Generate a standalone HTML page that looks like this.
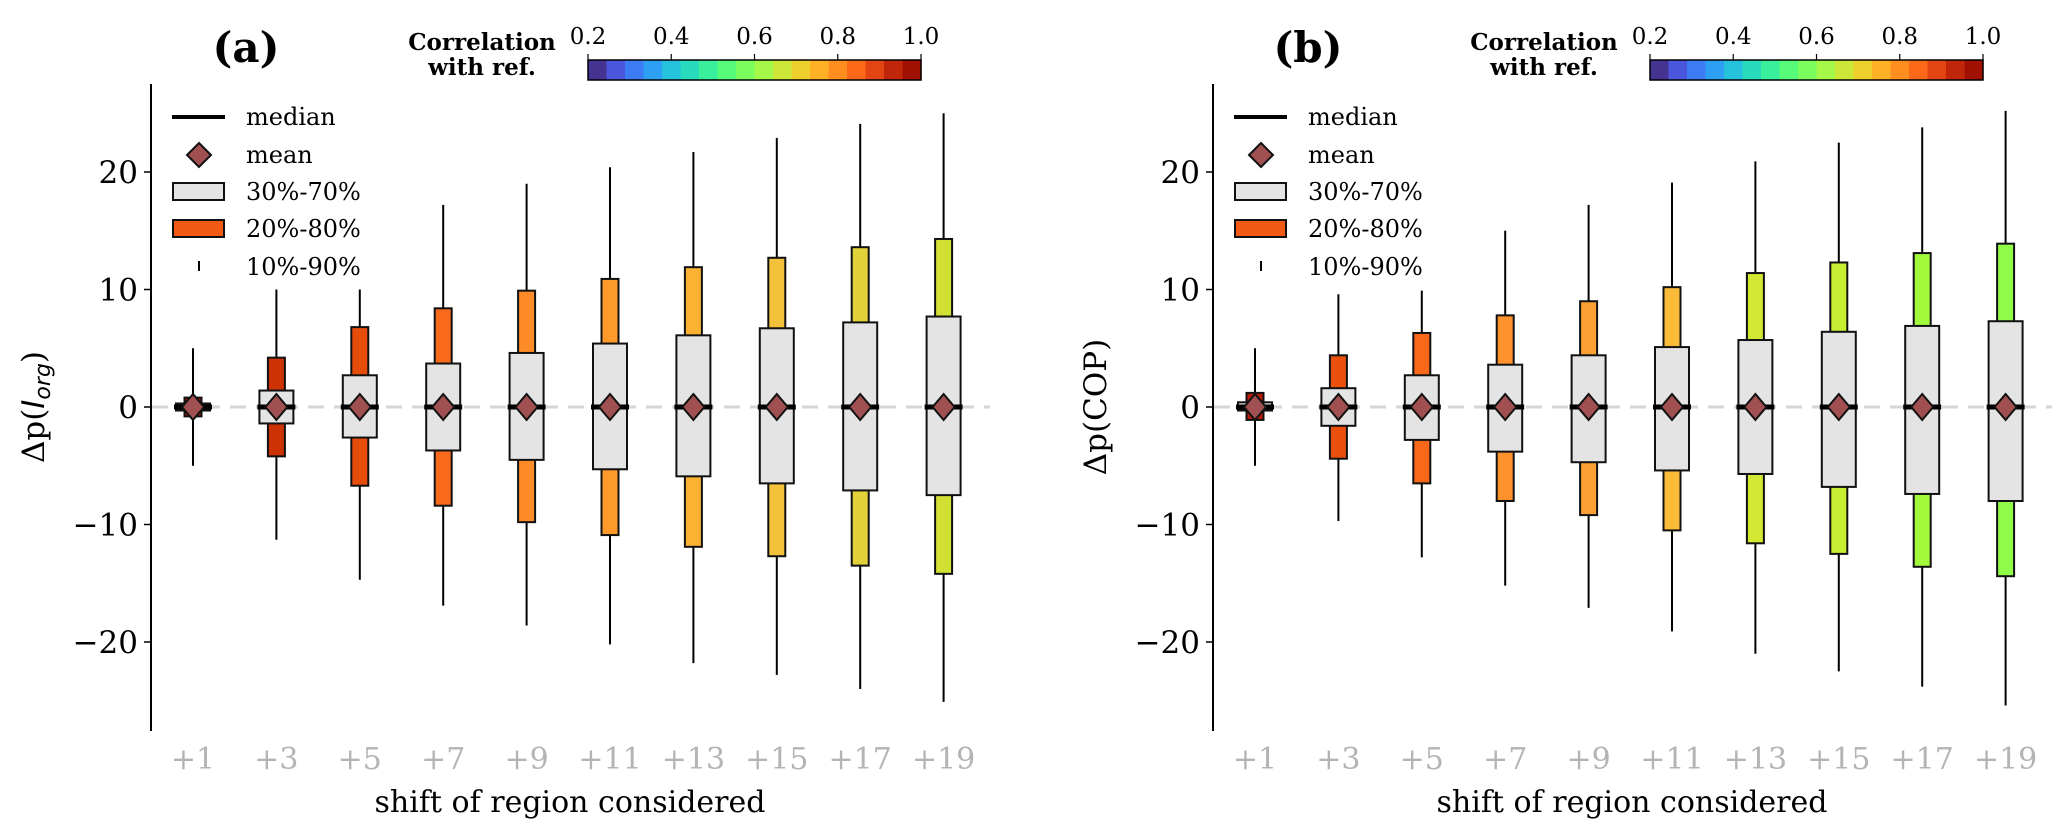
<!DOCTYPE html>
<html><head><meta charset="utf-8"><style>
html,body{margin:0;padding:0;background:#fff;}
svg{display:block;font-family:"DejaVu Serif","Liberation Serif",serif;}
</style></head><body>
<svg id="chart" width="2067" height="838" viewBox="0 0 2067 838" xmlns="http://www.w3.org/2000/svg"></svg>
<script>
const categories = ["+1","+3","+5","+7","+9","+11","+13","+15","+17","+19"];
const yTicks = [20,10,0,-10,-20];
const cbTicks = ["0.2","0.4","0.6","0.8","1.0"];
// panel a
const aP10 = [-5,-11.3,-14.7,-16.9,-18.6,-20.2,-21.8,-22.8,-24,-25.1];
const aP90 = [5,10,10,17.2,19,20.4,21.7,22.9,24.1,25];
const aP20 = [-0.8,-4.2,-6.7,-8.4,-9.8,-10.9,-11.9,-12.7,-13.5,-14.2];
const aP80 = [0.8,4.2,6.8,8.4,9.9,10.9,11.9,12.7,13.6,14.3];
const aP30 = [-0.3,-1.4,-2.6,-3.7,-4.5,-5.3,-5.9,-6.5,-7.1,-7.5];
const aP70 = [0.3,1.4,2.7,3.7,4.6,5.4,6.1,6.7,7.2,7.7];
const aMean = [0,0,0,0,0,0,0,0,0,0];
const aMedian = [0,0,0,0,0,0,0,0,0,0];
const aColors = ["#a81806","#cc3204","#e64c0a","#fa6a1c","#fd8c28","#fd9a2a","#fbb232","#f4c23a","#e2d23a","#d2e034"];
// panel b
const bP10 = [-5,-9.7,-12.8,-15.2,-17.1,-19.1,-21,-22.5,-23.8,-25.4];
const bP90 = [5,9.6,9.9,15,17.2,19.1,20.9,22.5,23.8,25.2];
const bP20 = [-1.1,-4.4,-6.5,-8,-9.2,-10.5,-11.6,-12.5,-13.6,-14.4];
const bP80 = [1.2,4.4,6.3,7.8,9,10.2,11.4,12.3,13.1,13.9];
const bP30 = [-0.3,-1.6,-2.8,-3.8,-4.7,-5.4,-5.7,-6.8,-7.4,-8];
const bP70 = [0.4,1.6,2.7,3.6,4.4,5.1,5.7,6.4,6.9,7.3];
const bMean = [0,0,0,0,0,0,0,0,0,0];
const bMedian = [0,0,0,0,0,0,0,0,0,0];
const bColors = ["#b81c06","#ea500c","#f86818","#fd922c","#fda033","#fbba38","#d2e832","#c8ee34","#a2fa3c","#90fc48"];

const NS="http://www.w3.org/2000/svg";
const svg=document.getElementById('chart');
function mk(tag,attrs,parent,text){const e=document.createElementNS(NS,tag);for(const k in attrs)e.setAttribute(k,attrs[k]);if(text!==undefined)e.textContent=text;(parent||svg).appendChild(e);return e;}

function turbo(t){
  const r=34.61+t*(1172.33-t*(10793.56-t*(33300.12-t*(38394.49-t*14825.05))));
  const g=23.31+t*(557.33+t*(1225.33-t*(3574.96-t*(1073.77+t*707.56))));
  const b=27.2+t*(3211.1-t*(15327.97-t*(27814-t*(22569.18-t*6838.66))));
  const c=v=>Math.max(0,Math.min(255,Math.round(v)));
  return `rgb(${c(r)},${c(g)},${c(b)})`;
}

function panel(off,name,title,ylabel,P10,P90,P20,P80,P30,P70,Mean,Median,Colors){
  const g=mk('g',{});
  
  
  const y=v=>407-v*11.75;
  const x=i=>off+193+i*83.4;
  const t=mk('text',{x:off+246,y:62,'font-size':42,'text-anchor':'middle','font-weight':'bold'},g,title);
  
  
  const zl=mk('line',{x1:off+152,x2:off+990,y1:y(0),y2:y(0),stroke:'#d6d6d6','stroke-width':3,'stroke-dasharray':'16,10'},g);
  
  
  const ax=mk('line',{x1:off+151,x2:off+151,y1:84,y2:731,stroke:'#000','stroke-width':2},g);
  
  
  yTicks.forEach(v=>{
    mk('line',{x1:off+144,x2:off+151,y1:y(v),y2:y(v),stroke:'#000','stroke-width':1.5},g);
    const tl=mk('text',{x:off+138,y:y(v)+11,'font-size':31,'text-anchor':'end'},g,(v<0?'\u2212':'')+Math.abs(v));
    
    
  });
  const yl=mk('text',{transform:`translate(${off+44},407) rotate(-90)`,'font-size':31,'text-anchor':'middle'},g);
  
  
  if(ylabel==='org'){
    yl.appendChild(document.createTextNode('\u0394p('));
    mk('tspan',{'font-style':'italic','font-family':'"DejaVu Sans",sans-serif'},yl,'I');
    mk('tspan',{'font-style':'italic','font-size':22,dy:6,'font-family':'"DejaVu Sans",sans-serif'},yl,'org');
    mk('tspan',{dy:-6},yl,')');
  } else yl.textContent='\u0394p(COP)';
  categories.forEach((c,i)=>{
    const tl=mk('text',{x:x(i),y:769,'font-size':30,'text-anchor':'middle',fill:'#b4b4b4'},g,c);
    
    
  });
  const xl=mk('text',{x:off+570,y:812,'font-size':30,'text-anchor':'middle'},g,'shift of region considered');
  
  
  categories.forEach((c,i)=>{
    const cx=x(i);
    const bg=mk('g',{},g);
    
    
    mk('line',{x1:cx,x2:cx,y1:y(P90[i]),y2:y(P10[i]),stroke:'#000','stroke-width':2},bg);
    mk('rect',{x:cx-8.5,y:y(P80[i]),width:17,height:y(P20[i])-y(P80[i]),fill:Colors[i],stroke:'#111','stroke-width':2},bg);
    mk('rect',{x:cx-17,y:y(P70[i]),width:34,height:Math.max(1,y(P30[i])-y(P70[i])),fill:'#e4e4e4',stroke:'#111','stroke-width':2},bg);
    mk('line',{x1:cx-19,x2:cx+19,y1:y(Median[i]),y2:y(Median[i]),stroke:'#000','stroke-width':5},bg);
    const m=y(Mean[i]);
    mk('polygon',{points:`${cx},${m-13} ${cx+11},${m} ${cx},${m+13} ${cx-11},${m}`,fill:'#a05050',stroke:'#111','stroke-width':2},bg);
  });
  const lg=mk('g',{},g);
  
  
  const lx=off+172, tx=off+246;
  mk('line',{x1:lx,x2:lx+53,y1:117,y2:117,stroke:'#000','stroke-width':4},lg);
  mk('text',{x:tx,y:125,'font-size':24},lg,'median');
  mk('polygon',{points:`${lx+27},${143} ${lx+39},${155} ${lx+27},${167} ${lx+15},${155}`,fill:'#a05050',stroke:'#111','stroke-width':2},lg);
  mk('text',{x:tx,y:163,'font-size':24},lg,'mean');
  mk('rect',{x:lx+1,y:183,width:51,height:17,fill:'#e4e4e4',stroke:'#111','stroke-width':2},lg);
  mk('text',{x:tx,y:200,'font-size':24},lg,'30%-70%');
  mk('rect',{x:lx+1,y:220,width:51,height:17,fill:'#f05a14',stroke:'#111','stroke-width':2},lg);
  mk('text',{x:tx,y:237,'font-size':24},lg,'20%-80%');
  mk('line',{x1:lx+27,x2:lx+27,y1:261,y2:271,stroke:'#000','stroke-width':2},lg);
  mk('text',{x:tx,y:275,'font-size':24},lg,'10%-90%');
  const cb=mk('g',{},g);
  
  
  const cx0=off+588, cw=333, n=18;
  for(let k=0;k<n;k++){
    const tt=(k+0.5)/n;
    mk('rect',{x:cx0+k*cw/n,y:60,width:cw/n+0.6,height:20,fill:turbo(0.02+0.95*tt)},cb);
  }
  mk('rect',{x:cx0,y:60,width:cw,height:20,fill:'none',stroke:'#000','stroke-width':1.5},cb);
  cbTicks.forEach((s,k)=>{
    const tx2=cx0+k*cw/4;
    mk('line',{x1:tx2,x2:tx2,y1:54,y2:60,stroke:'#000','stroke-width':1.2},cb);
    mk('text',{x:tx2,y:44,'font-size':23,'text-anchor':'middle'},cb,s);
  });
  mk('text',{x:off+482,y:50,'font-size':23,'font-weight':'bold','text-anchor':'middle'},cb,'Correlation');
  mk('text',{x:off+482,y:75,'font-size':23,'font-weight':'bold','text-anchor':'middle'},cb,'with ref.');
}
panel(0,'panel-a','(a)','org',aP10,aP90,aP20,aP80,aP30,aP70,aMean,aMedian,aColors);
panel(1062,'panel-b','(b)','cop',bP10,bP90,bP20,bP80,bP30,bP70,bMean,bMedian,bColors);
</script>
</body></html>
